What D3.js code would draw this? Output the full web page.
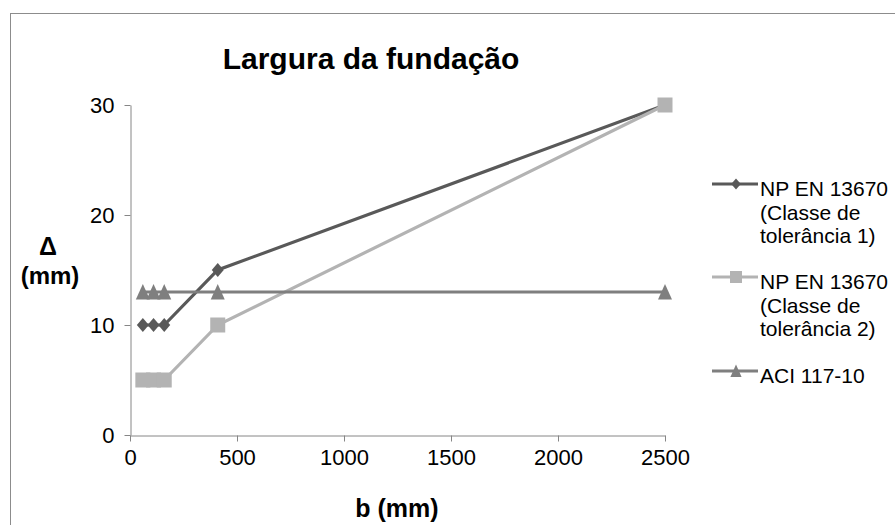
<!DOCTYPE html>
<html>
<head>
<meta charset="utf-8">
<script src="https://cdn.jsdelivr.net/npm/d3@7"></script>
<style>
  body { margin: 0; background: #fff; }
  text { font-family: "Liberation Sans", Arial, sans-serif; }
</style>
</head>
<body>
<div id="chart"></div>
<script>
/* Largura da fundação - tolerance vs. foundation width */

var bValues = [60, 110, 160, 410, 2500];
var classe1 = [10, 10, 10, 15, 30];
var classe2 = [5, 5, 5, 10, 30];
var aci = [13, 13, 13, 13, 13];
var xTicks = [0, 500, 1000, 1500, 2000, 2500];
var yTicks = [0, 10, 20, 30];
var seriesNames = [
  ['NP EN 13670', '(Classe de', 'tolerância 1)'],
  ['NP EN 13670', '(Classe de', 'tolerância 2)'],
  ['ACI 117-10']
];

var width = 895;
var height = 525;

var series = [
  { values: classe1, color: '#595959', marker: 'diamond', names: seriesNames[0] },
  { values: classe2, color: '#b3b3b3', marker: 'square', names: seriesNames[1] },
  { values: aci, color: '#7f7f7f', marker: 'triangle', names: seriesNames[2] }
];

function markerPath(type) {
  if (type === 'diamond') {
    return 'M0,-7L6,0L0,7L-6,0Z';
  }
  if (type === 'square') {
    return 'M-7.5,-7.5H7.5V7.5H-7.5Z';
  }
  return 'M0,-8L7,7.5H-7Z';
}

var svg = d3.select('#chart').append('svg')
  .attr('width', width)
  .attr('height', height);

// frame (only left / top edges visible in the crop)
svg.append('rect')
  .attr('x', 10.5).attr('y', 13.5)
  .attr('width', 1000).attr('height', 1000)
  .attr('fill', 'none')
  .attr('stroke', '#8c8c8c');

var x = d3.scaleLinear().domain([0, 2500]).range([130, 665]);
var y = d3.scaleLinear().domain([0, 30]).range([435, 105]);

var xAxis = svg.append('g')
  .attr('transform', 'translate(0,435.5)')
  .call(d3.axisBottom(x).tickValues(xTicks).tickFormat(d3.format('d'))
    .tickSize(6).tickSizeOuter(0).tickPadding(8));

var yAxis = svg.append('g')
  .attr('transform', 'translate(130.5,0)')
  .call(d3.axisLeft(y).tickValues(yTicks).tickFormat(d3.format('d'))
    .tickSize(6).tickSizeOuter(0).tickPadding(10));

[xAxis, yAxis].forEach(function(a) {
  a.select('.domain').attr('stroke', '#868686');
  a.selectAll('.tick line').attr('stroke', '#868686');
  a.selectAll('.tick text')
    .attr('fill', '#000')
    .style('font-family', '"Liberation Sans", Arial, sans-serif')
    .style('font-size', '22px');
});

var line = d3.line()
  .x(function(d) { return x(d[0]); })
  .y(function(d) { return y(d[1]); });

series.forEach(function(s) {
  var pts = bValues.map(function(b, i) { return [b, s.values[i]]; });
  svg.append('path')
    .datum(pts)
    .attr('d', line)
    .attr('fill', 'none')
    .attr('stroke', s.color)
    .attr('stroke-width', 3.2);
  svg.selectAll(null).data(pts).enter()
    .append('path')
    .attr('d', markerPath(s.marker))
    .attr('transform', function(d) {
      return 'translate(' + x(d[0]) + ',' + y(d[1]) + ')';
    })
    .attr('fill', s.color);
});

// title
svg.append('text')
  .attr('x', 371).attr('y', 69)
  .attr('text-anchor', 'middle')
  .style('font-size', '30px')
  .style('font-weight', 'bold')
  .text('Largura da fundação');

// axis titles
svg.append('text')
  .attr('x', 397).attr('y', 517)
  .attr('text-anchor', 'middle')
  .style('font-size', '25px')
  .style('font-weight', 'bold')
  .text('b (mm)');

svg.append('text')
  .attr('x', 48).attr('y', 255)
  .attr('text-anchor', 'middle')
  .style('font-size', '25px')
  .style('font-weight', 'bold')
  .text('Δ');
svg.append('text')
  .attr('x', 50).attr('y', 284)
  .attr('text-anchor', 'middle')
  .style('font-size', '24px')
  .style('font-weight', 'bold')
  .text('(mm)');

// legend
var legendY = [184, 277, 371];
series.forEach(function(s, i) {
  var g = svg.append('g').attr('transform', 'translate(0,' + legendY[i] + ')');
  g.append('line')
    .attr('x1', 712).attr('x2', 758)
    .attr('stroke', s.color)
    .attr('stroke-width', 3.2);
  g.append('path')
    .attr('d', markerPath(s.marker))
    .attr('transform', 'translate(736,0) scale(0.8)')
    .attr('fill', s.color);
  s.names.forEach(function(t, k) {
    g.append('text')
      .attr('x', 760)
      .attr('y', 12 + k * 23.5)
      .style('font-size', '21px')
      .text(t);
  });
});
</script>
</body>
</html>
